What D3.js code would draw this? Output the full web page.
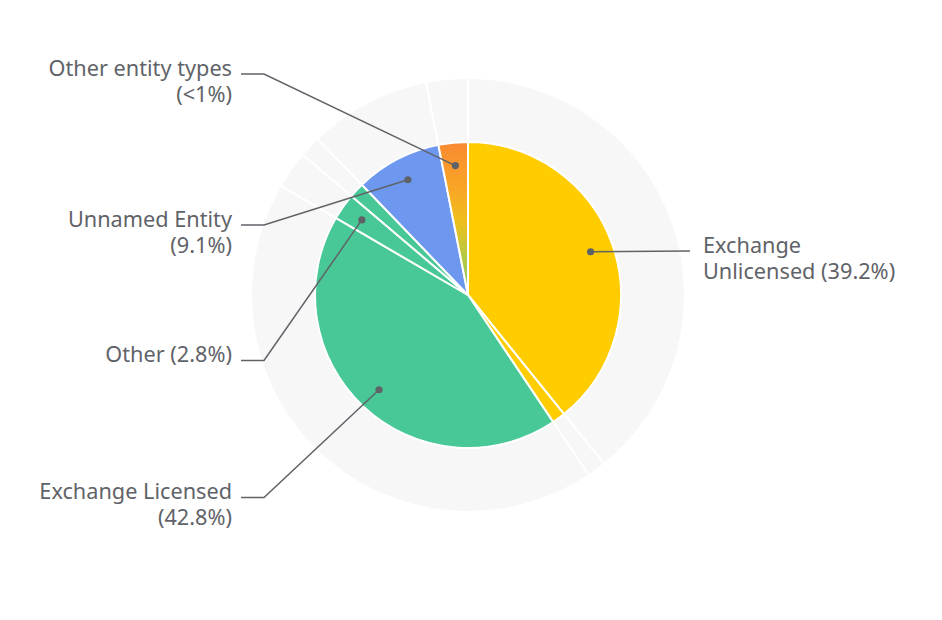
<!DOCTYPE html>
<html><head><meta charset="utf-8">
<script src="https://cdn.jsdelivr.net/npm/d3@7"></script>
<style>body{margin:0;background:#fff;} text{font-family:"Noto Sans",sans-serif;}</style>
</head><body><svg id="c" width="942" height="620"></svg>
<script>
const categories = ["Exchange Unlicensed","Exchange Unlicensed (minor)","Exchange Licensed","Other","Other (minor)","Unnamed Entity","Other entity types"];
const values = [39.2, 1.4, 42.8, 2.8, 1.6, 9.1, 3.1];
const labelLines = [["Exchange","Unlicensed (39.2%)"], null, ["Exchange Licensed","(42.8%)"], ["Other (2.8%)"], null, ["Unnamed Entity","(9.1%)"], ["Other entity types","(<1%)"]];

const colors = ["#ffcc00","#ffcc00","#48c896","#48c896","#48c896","#6e98f0","url(#og)"];
const labelY = {0:251, 2:497.5, 3:360.5, 5:225, 6:74};
const W = 942, H = 620, cx = 468, cy = 295, R = 153, RO = 217, RD = 130;
const ink = "#5f6368";

const svg = d3.select("#c");
const defs = svg.append("defs");
const g = svg.append("g").attr("transform", `translate(${cx},${cy})`);
const grad = defs.append("linearGradient").attr("id","og").attr("gradientUnits","userSpaceOnUse")
  .attr("x1",0).attr("y1",-R).attr("x2",0).attr("y2",0);
[[0,"#f98a32"],[0.3,"#f9a526"],[0.52,"#eebf1c"],[0.75,"#b6c944"],[1,"#86cc68"]].forEach(([o,c]) =>
  grad.append("stop").attr("offset",o).attr("stop-color",c));

const data = categories.map((c,i)=>({name:c, value:values[i], i}));
const pie = d3.pie().sort(null).value(d=>d.value).startAngle(0).endAngle(2*Math.PI);
const arcs = pie(data);

const ring = d3.arc().innerRadius(0).outerRadius(RO);
g.selectAll("path.ring").data(arcs).join("path").attr("class","ring")
  .attr("d", ring).attr("fill","#f7f7f7").attr("stroke","#fff").attr("stroke-width",2);

const arc = d3.arc().innerRadius(0).outerRadius(R);
g.selectAll("path.slice").data(arcs).join("path").attr("class","slice")
  .attr("d", arc).attr("fill", d=>colors[d.data.i]).attr("stroke","#fff").attr("stroke-width",2)
  .attr("stroke-linejoin","round");

const dotArc = d3.arc().innerRadius(RD).outerRadius(RD);
const labeled = arcs.filter(d => labelLines[d.data.i]);
const lg = svg.append("g");
labeled.forEach(d => {
  const [dx, dy] = dotArc.centroid(d);
  const px = cx + dx, py = cy + dy;
  const y = labelY[d.data.i];
  const right = (d.startAngle + d.endAngle)/2 < Math.PI;
  let pts;
  if (right) pts = [[px,py],[690,y]];
  else pts = [[px,py],[264,y],[241,y]];
  lg.append("path").attr("d", d3.line()(pts)).attr("fill","none").attr("stroke",ink).attr("stroke-width",1.5);
  lg.append("circle").attr("cx",px).attr("cy",py).attr("r",3.6).attr("fill",ink);
  const t = lg.append("text").attr("x", right ? 703 : 232).attr("y", y + 1.5)
    .attr("text-anchor", right ? "start" : "end").attr("fill", ink).attr("font-size", 21.7);
  labelLines[d.data.i].forEach((s, k) => {
    t.append("tspan").attr("x", right ? 703 : 232).attr("dy", k === 0 ? 0 : 26).text(s);
  });
});
</script></body></html>
